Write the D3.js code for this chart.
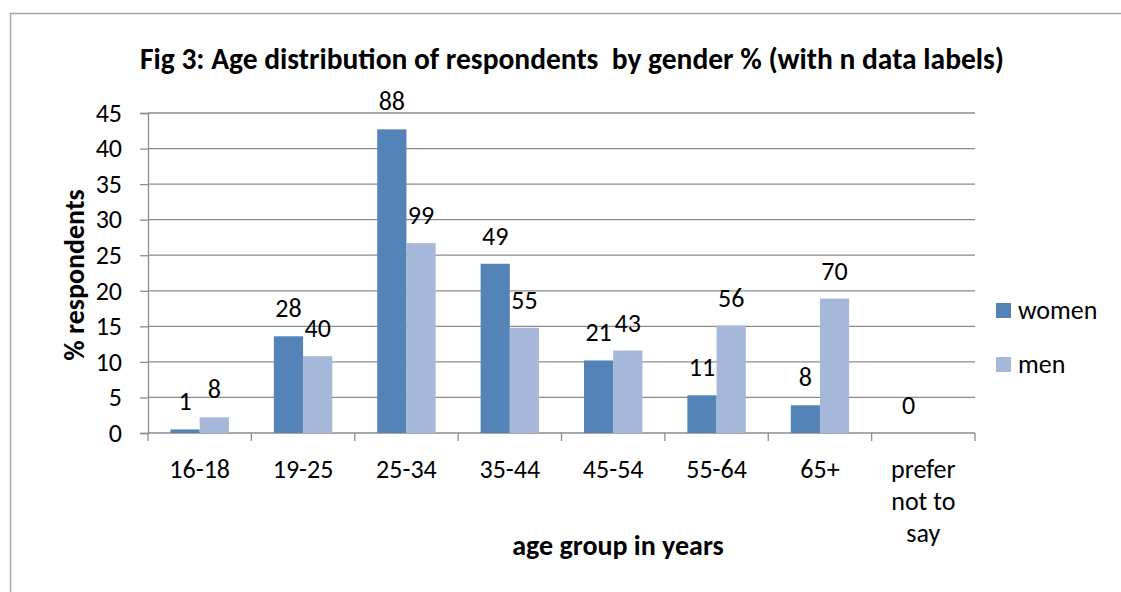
<!DOCTYPE html>
<html>
<head>
<meta charset="utf-8">
<script src="https://cdn.jsdelivr.net/npm/d3@7"></script>
<style>
  body { margin: 0; background: #fff; }
  svg { display: block; font-family: Carlito, "Open Sans", "Noto Sans", sans-serif; }
</style>
</head>
<body>
<div id="chart"></div>
<script>
// age groups on the x axis
const categories = ['16-18', '19-25', '25-34', '35-44', '45-54', '55-64', '65+', 'prefer not to say'];
// % respondents
const women = [0.5, 13.6, 42.7, 23.8, 10.2, 5.3, 3.9, 0];
const men   = [2.2, 10.8, 26.7, 14.8, 11.6, 15.1, 18.9, 0];
// n data labels shown above the bars
const womenN = [1, 28, 88, 49, 21, 11, 8, 0];
const menN   = [8, 40, 99, 55, 43, 56, 70, null];
const yTicks = [0, 5, 10, 15, 20, 25, 30, 35, 40, 45];
const seriesNames = ['women', 'men'];

const COLOR_WOMEN = '#5383b7';
const COLOR_MEN   = '#a5b8d9';
const GRID        = '#8c8c8c';
const FS = 26;   // regular text size

const W = 1121, H = 592;
const margin = { top: 113, right: 146, bottom: 159, left: 148 };

const svg = d3.select('#chart').append('svg')
    .attr('width', W).attr('height', H);

// chart border (runs off the right and bottom edges)
svg.append('rect')
    .attr('x', 10.5).attr('y', 13.5)
    .attr('width', W).attr('height', H)
    .attr('fill', 'none').attr('stroke', '#a6a6a6').attr('stroke-width', 1.5);

const x = d3.scaleBand()
    .domain(categories)
    .range([margin.left, W - margin.right])
    .paddingInner(0.435).paddingOuter(0.2175);
const xSub = d3.scaleBand()
    .domain(seriesNames)
    .range([0, x.bandwidth()]);
const y = d3.scaleLinear()
    .domain([0, 45])
    .range([H - margin.bottom, margin.top]);

const x0 = margin.left, x1 = W - margin.right;
const step = x.step();

// gridlines
svg.append('g')
  .selectAll('line').data(yTicks.filter(d => d > 0)).join('line')
    .attr('x1', x0).attr('x2', x1)
    .attr('y1', d => y(d)).attr('y2', d => y(d))
    .attr('stroke', GRID).attr('stroke-width', 1.3);

// y axis
const yAxis = svg.append('g')
    .attr('transform', `translate(${x0},0)`)
    .call(d3.axisLeft(y).tickValues(yTicks).tickSize(8).tickPadding(18));
yAxis.select('.domain').attr('stroke', GRID).attr('stroke-width', 1.3);
yAxis.selectAll('.tick line').attr('stroke', GRID).attr('stroke-width', 1.3);
yAxis.selectAll('.tick text')
    .attr('font-size', FS).attr('fill', '#000')
    .attr('font-family', 'Carlito, "Open Sans", "Noto Sans", sans-serif');

// x axis baseline + category boundary ticks
svg.append('line')
    .attr('x1', x0).attr('x2', x1)
    .attr('y1', y(0)).attr('y2', y(0))
    .attr('stroke', GRID).attr('stroke-width', 1.3);
svg.append('g')
  .selectAll('line').data(d3.range(categories.length + 1)).join('line')
    .attr('x1', i => x0 + i * step).attr('x2', i => x0 + i * step)
    .attr('y1', y(0)).attr('y2', y(0) + 8)
    .attr('stroke', GRID).attr('stroke-width', 1.3);

// x category labels (wrap long one)
const xLabels = svg.append('g');
categories.forEach(c => {
    const cx = x(c) + x.bandwidth() / 2;
    const lines = c === 'prefer not to say' ? ['prefer', 'not to', 'say'] : [c];
    lines.forEach((ln, i) => {
        xLabels.append('text')
            .attr('x', cx).attr('y', 478 + i * 32)
            .attr('text-anchor', 'middle')
            .attr('font-size', FS).attr('fill', '#000')
            .text(ln);
    });
});

// bars
const groups = svg.append('g')
  .selectAll('g').data(categories).join('g')
    .attr('transform', d => `translate(${x(d)},0)`);

groups.append('rect')
    .attr('x', xSub('women')).attr('width', xSub.bandwidth())
    .attr('y', (d, i) => y(women[i]))
    .attr('height', (d, i) => y(0) - y(women[i]))
    .attr('fill', COLOR_WOMEN);
groups.append('rect')
    .attr('x', xSub('men')).attr('width', xSub.bandwidth())
    .attr('y', (d, i) => y(men[i]))
    .attr('height', (d, i) => y(0) - y(men[i]))
    .attr('fill', COLOR_MEN);

// n labels
groups.append('text')
    .attr('x', xSub('women') + xSub.bandwidth() / 2)
    .attr('y', (d, i) => y(women[i]) - 19)
    .attr('text-anchor', 'middle').attr('font-size', FS)
    .text((d, i) => womenN[i]);
groups.filter((d, i) => menN[i] != null).append('text')
    .attr('x', xSub('men') + xSub.bandwidth() / 2)
    .attr('y', d => y(men[categories.indexOf(d)]) - 19)
    .attr('text-anchor', 'middle').attr('font-size', FS)
    .text(d => menN[categories.indexOf(d)]);

// title
svg.append('text')
    .attr('x', 572).attr('y', 69)
    .attr('text-anchor', 'middle')
    .attr('font-size', 29.5).attr('font-weight', 'bold')
    .style('white-space', 'pre')
    .text('Fig 3: Age distribution of respondents  by gender % (with n data labels)');

// axis titles
svg.append('text')
    .attr('x', 618).attr('y', 555)
    .attr('text-anchor', 'middle')
    .attr('font-size', 28).attr('font-weight', 'bold')
    .text('age group in years');
svg.append('text')
    .attr('transform', 'translate(84,275) rotate(-90)')
    .attr('text-anchor', 'middle')
    .attr('font-size', 28).attr('font-weight', 'bold')
    .text('% respondents');

// legend
const legend = svg.append('g')
  .selectAll('g').data(seriesNames).join('g')
    .attr('transform', (d, i) => `translate(996,${303 + i * 54})`);
legend.append('rect')
    .attr('width', 15).attr('height', 15)
    .attr('fill', (d, i) => i === 0 ? COLOR_WOMEN : COLOR_MEN);
legend.append('text')
    .attr('x', 22).attr('y', 16)
    .attr('font-size', FS)
    .text(d => d);
</script>
</body>
</html>
